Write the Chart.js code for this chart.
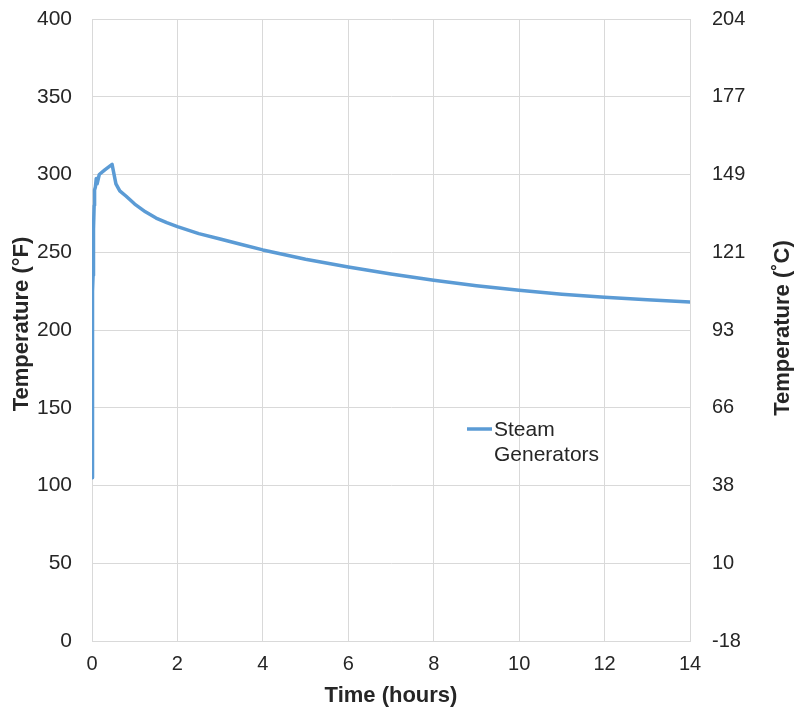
<!DOCTYPE html>
<html>
<head>
<meta charset="utf-8">
<style>
  html, body { margin: 0; padding: 0; background: #ffffff; }
  #wrap { width: 799px; height: 719px; }
</style>
<script src="https://cdn.jsdelivr.net/npm/chart.js@4.4.1/dist/chart.umd.min.js"></script>
</head>
<body>
<div id="wrap"><canvas id="c" width="799" height="719"></canvas></div>
<script>
// ---- data ----
const seriesLabel = "Steam Generators";
const timeHours = [0, 0.004, 0.008, 0.012, 0.016, 0.02, 0.025, 0.03, 0.04, 0.05, 0.06, 0.08, 0.1, 0.12, 0.17, 0.3, 0.47, 0.56, 0.65, 0.8, 1.0, 1.25, 1.5, 1.75, 2, 2.5, 3, 3.5, 4, 5, 6, 7, 8, 9, 10, 11, 12, 13, 14];
const tempF = [105, 168, 198, 209, 217, 225, 235, 250, 265, 280, 290, 292, 297.5, 294, 300, 303, 306.5, 294, 289.5, 286, 281, 276, 272, 269, 266.5, 262, 258.5, 255, 251.5, 245.5, 240.5, 236, 232, 228.5, 225.5, 223, 221, 219.5, 218];
const celsiusTickLabels = ["-18", "10", "38", "66", "93", "121", "149", "177", "204"];
const xTitle = "Time (hours)";
const yLeftTitle = "Temperature (°F)";
const yRightTitle = "Temperature (˚C)";

const points = timeHours.map((t, i) => ({ x: t, y: tempF[i] }));

const FONT = "'Liberation Sans', Arial, Helvetica, sans-serif";
const TEXT = "#262626";
const GRID = "#d9d9d9";
const LINE = "#5b9bd5";

const overlay = {
  id: "overlay",
  afterDraw(chart) {
    const ctx = chart.ctx;
    const ca = chart.chartArea;
    ctx.save();
    ctx.fillStyle = TEXT;
    ctx.font = "bold 22px " + FONT;
    ctx.textAlign = "center";
    ctx.textBaseline = "middle";
    ctx.fillText(xTitle, (ca.left + ca.right) / 2, 696);
    ctx.save();
    ctx.translate(22, 324);
    ctx.rotate(-Math.PI / 2);
    ctx.fillText(yLeftTitle, 0, 0);
    ctx.restore();
    ctx.save();
    ctx.translate(783, 328);
    ctx.rotate(-Math.PI / 2);
    ctx.fillText(yRightTitle, 0, 0);
    ctx.restore();
    const ds = chart.data.datasets[0];
    const lines = ds.label.split(" ");
    ctx.strokeStyle = ds.borderColor;
    ctx.lineWidth = ds.borderWidth;
    ctx.beginPath();
    ctx.moveTo(467, 429);
    ctx.lineTo(492, 429);
    ctx.stroke();
    ctx.font = "21px " + FONT;
    ctx.textAlign = "left";
    lines.forEach((s, i) => ctx.fillText(s, 494, 430 + i * 25));
    ctx.restore();
  }
};

function trimPad(s) { s.paddingTop = 12; s.paddingBottom = 12; }

new Chart(document.getElementById("c"), {
  type: "line",
  data: {
    datasets: [{
      label: seriesLabel,
      data: points,
      borderColor: LINE,
      backgroundColor: LINE,
      borderWidth: 3.5,
      pointRadius: 0,
      tension: 0,
      fill: false,
      borderJoinStyle: "round",
      borderCapStyle: "round"
    }]
  },
  options: {
    responsive: false,
    animation: false,
    layout: { padding: { top: 19, left: 0, right: 0, bottom: 0 } },
    plugins: { legend: { display: false }, tooltip: { enabled: false } },
    scales: {
      x: {
        type: "linear",
        min: 0, max: 14,
        ticks: { stepSize: 2, color: TEXT, font: { family: FONT, size: 20 }, padding: 11, maxRotation: 0 },
        grid: { color: GRID, lineWidth: 1, drawTicks: false },
        border: { color: GRID, width: 1 },
        afterFit(s) { s.height = 78; s.paddingLeft = 8; s.paddingRight = 12; }
      },
      y: {
        position: "left",
        min: 0, max: 400,
        ticks: { stepSize: 50, color: TEXT, font: { family: FONT, size: 21 }, padding: 20 },
        grid: { color: GRID, lineWidth: 1, drawTicks: false },
        border: { color: GRID, width: 1 },
        afterFit(s) { s.width = 92; trimPad(s); }
      },
      y2: {
        position: "right",
        min: 0, max: 400,
        ticks: {
          stepSize: 50, color: TEXT, font: { family: FONT, size: 20 }, padding: 22,
          callback: (v, i) => celsiusTickLabels[i]
        },
        grid: { drawOnChartArea: false, drawTicks: false },
        border: { color: GRID, width: 1 },
        afterFit(s) { s.width = 109; trimPad(s); }
      }
    }
  },
  plugins: [overlay]
});
</script>
</body>
</html>
